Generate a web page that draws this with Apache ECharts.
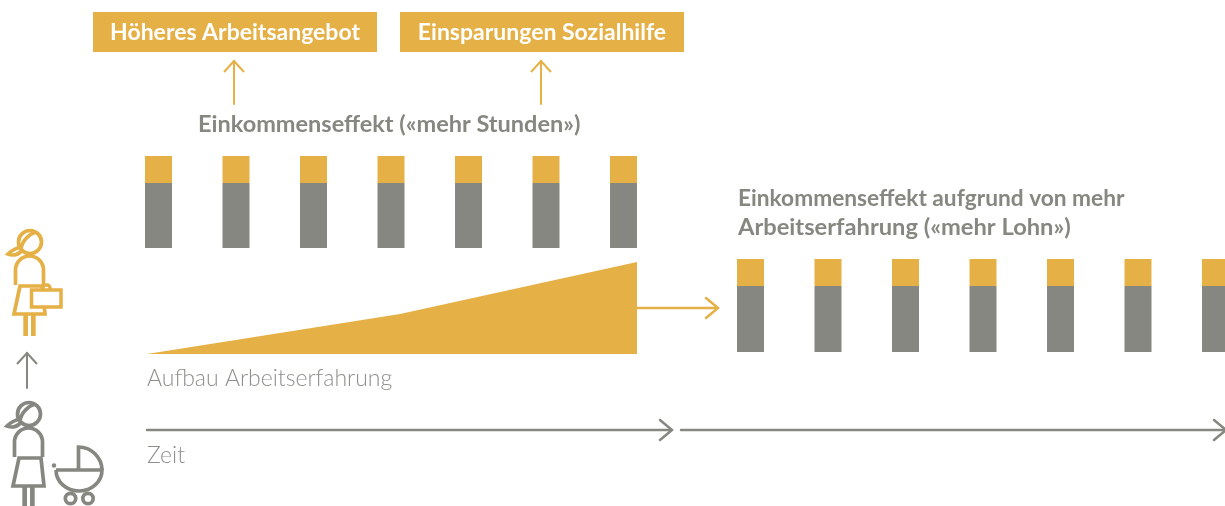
<!DOCTYPE html>
<html>
<head>
<meta charset="utf-8">
<title>Einkommenseffekt</title>
<script src="https://cdn.jsdelivr.net/npm/echarts@6/dist/echarts.min.js"></script>
<style>
html, body { margin: 0; padding: 0; background: #fff; }
#chart { width: 1225px; height: 506px; }
</style>
</head>
<body>
<div id="chart"></div>
<script>
const periods = ['1', '2', '3', '4', '5', '6', '7'];
const lohnEarly = [65, 65, 65, 65, 65, 65, 65];
const stundenEarly = [27, 27, 27, 27, 27, 27, 27];
const lohnLate = [66, 66, 66, 66, 66, 66, 66];
const stundenLate = [27, 27, 27, 27, 27, 27, 27];
const erfahrungZeit = [0, 253, 490];
const erfahrungWert = [0, 40, 92];

const YELLOW = '#e5b045';
const GRAY = '#868780';
const FONT = 'Lato';

const hiddenAxis = (extra) => Object.assign({ show: false }, extra);

function barSeries(name, values, color, axisIndex) {
    return {
        name: name,
        type: 'bar',
        stack: 'g' + axisIndex,
        xAxisIndex: axisIndex,
        yAxisIndex: axisIndex,
        data: values,
        barWidth: 27,
        silent: true,
        itemStyle: { color: color }
    };
}

// svg pfade fuer die icons registrieren, graphic kennt sonst kein path
const iconPaths = {
    hair: 'M-9 7C-8 -1 -1 -8 6 -10M-9 5C-13 6 -18 8 -22 12C-17 14 -11 13 -8 8',
    torso: 'M-14.5 43V28A14 14 0 0 1 13.5 28V43',
    skirt: 'M-10 44L-16 72H15L12 44Z',
    handle: 'M43 290V288A3 3 0 0 1 46 285H47A3 3 0 0 1 50 288V290',
    hood: 'M78.5 470V447A23.5 23.5 0 0 1 102 470',
    basket: 'M56 470H102A23 21 0 0 1 56 470'
};
Object.keys(iconPaths).forEach((k) => {
    echarts.graphic.registerShape('icon_' + k, echarts.graphic.extendPath(iconPaths[k], {}));
});

// einfache Linien und Pfeile, alles Beschriftung/Deko
function line(x1, y1, x2, y2, color, w) {
    return { type: 'line', shape: { x1, y1, x2, y2 }, style: { stroke: color, lineWidth: w || 2.5, lineCap: 'round' }, silent: true };
}
function chevronRight(x, y, color, w) {
    return {
        type: 'polyline',
        shape: { points: [[x - 12, y - 10], [x, y], [x - 12, y + 10]] },
        style: { stroke: color, lineWidth: w || 2.5, fill: 'none', lineCap: 'round' },
        silent: true
    };
}
function upArrow(x, y1, y2, color) {
    return [
        line(x, y1, x, y2, color, 2),
        {
            type: 'polyline',
            shape: { points: [[x - 10, y1 + 11], [x, y1], [x + 10, y1 + 11]] },
            style: { stroke: color, lineWidth: 2, fill: 'none' },
            silent: true
        }
    ];
}
function label(text, x, y, size, weight, color) {
    return {
        type: 'text', x: x, y: y, silent: true,
        style: { text: text, fontFamily: FONT, fontSize: size, fontWeight: weight, fill: color, textVerticalAlign: 'middle' }
    };
}
function box(x, y, w, h, text) {
    return [
        { type: 'rect', shape: { x, y, width: w, height: h }, style: { fill: YELLOW }, silent: true },
        {
            type: 'text', x: x + w / 2, y: y + h / 2 + 1, silent: true,
            style: { text: text, fontFamily: FONT, fontSize: 23, fontWeight: 700, fill: '#fff', textAlign: 'center', textVerticalAlign: 'middle' }
        }
    ];
}
function woman(x, y, color) {
    const st = { stroke: color, lineWidth: 3.7, fill: 'none' };
    const p = [
        { type: 'circle', shape: { cx: 0, cy: 0, r: 11.5 }, style: st },
        { type: 'icon_hair', style: st },
        { type: 'icon_torso', style: st },
        { type: 'icon_skirt', style: st },
        { type: 'rect', shape: { x: -6.7, y: 72, width: 4.7, height: 22 }, style: { fill: color } },
        { type: 'rect', shape: { x: 1, y: 72, width: 4.7, height: 22 }, style: { fill: color } }
    ];
    return { type: 'group', x: x, y: y, silent: true, children: p };
}
function briefcase() {
    const st = { stroke: YELLOW, lineWidth: 3.5, fill: '#fff' };
    return { type: 'group', silent: true, children: [
        { type: 'icon_handle', style: { stroke: YELLOW, lineWidth: 3.5, fill: 'none' } },
        { type: 'rect', shape: { x: 31.5, y: 290, width: 29.5, height: 17 }, style: st }
    ] };
}
function pram() {
    const st = { stroke: GRAY, lineWidth: 3.7, fill: 'none' };
    return { type: 'group', silent: true, children: [
        { type: 'icon_hood', style: st },
        { type: 'icon_basket', style: st },
        { type: 'circle', shape: { cx: 54, cy: 465.5, r: 2.2 }, style: { fill: GRAY } },
        { type: 'circle', shape: { cx: 70.5, cy: 498.5, r: 5.2 }, style: st },
        { type: 'circle', shape: { cx: 88, cy: 498.5, r: 5.2 }, style: st }
    ] };
}

const decorations = [
    ...box(93, 12, 284, 40, 'Höheres Arbeitsangebot'),
    ...box(400, 12, 284, 40, 'Einsparungen Sozialhilfe'),
    ...upArrow(234, 61, 104, YELLOW),
    ...upArrow(541, 61, 104, YELLOW),
    label('Einkommenseffekt («mehr Stunden»)', 198, 124, 23.5, 700, GRAY),
    label('Einkommenseffekt aufgrund von mehr', 738, 199, 22.7, 700, GRAY),
    label('Arbeitserfahrung («mehr Lohn»)', 738, 227, 23.7, 700, GRAY),
    label('Aufbau Arbeitserfahrung', 147, 379, 23, 300, '#8f908a'),
    label('Zeit', 147, 456, 23, 300, '#8f908a'),
    line(637, 308, 717, 308, YELLOW),
    chevronRight(718, 308, YELLOW),
    line(147, 430, 671, 430, GRAY),
    chevronRight(672, 430, GRAY),
    line(681, 430, 1224, 430, GRAY),
    chevronRight(1226, 430, GRAY),
    ...upArrow(27, 353, 388, GRAY),
    woman(30, 242, YELLOW),
    briefcase(),
    woman(29, 414, GRAY),
    pram()
];

const chart = echarts.init(document.getElementById('chart'));
chart.setOption({
    animation: false,
    backgroundColor: '#fff',
    grid: [
        { left: 119.75, width: 542.5, top: 156, height: 92, outerBoundsMode: 'none' },
        // letzter balken laeuft rechts aus dem bild
        { left: 711.75, width: 542.5, top: 259, height: 93, outerBoundsMode: 'none' },
        { left: 147, width: 490, top: 262, height: 92, outerBoundsMode: 'none' }
    ],
    xAxis: [
        hiddenAxis({ type: 'category', gridIndex: 0, data: periods }),
        hiddenAxis({ type: 'category', gridIndex: 1, data: periods }),
        hiddenAxis({ type: 'value', gridIndex: 2, min: 0, max: 490 })
    ],
    yAxis: [
        hiddenAxis({ type: 'value', gridIndex: 0, min: 0, max: 92 }),
        hiddenAxis({ type: 'value', gridIndex: 1, min: 0, max: 93 }),
        hiddenAxis({ type: 'value', gridIndex: 2, min: 0, max: 92 })
    ],
    series: [
        barSeries('Lohn früh', lohnEarly, GRAY, 0),
        barSeries('Stunden früh', stundenEarly, YELLOW, 0),
        barSeries('Lohn spät', lohnLate, GRAY, 1),
        barSeries('Stunden spät', stundenLate, YELLOW, 1),
        {
            name: 'Arbeitserfahrung',
            type: 'line',
            xAxisIndex: 2,
            yAxisIndex: 2,
            data: erfahrungZeit.map((t, i) => [t, erfahrungWert[i]]),
            symbol: 'none',
            silent: true,
            lineStyle: { width: 0 },
            areaStyle: { color: YELLOW, opacity: 1 }
        }
    ],
    graphic: decorations
});
</script>
</body>
</html>
